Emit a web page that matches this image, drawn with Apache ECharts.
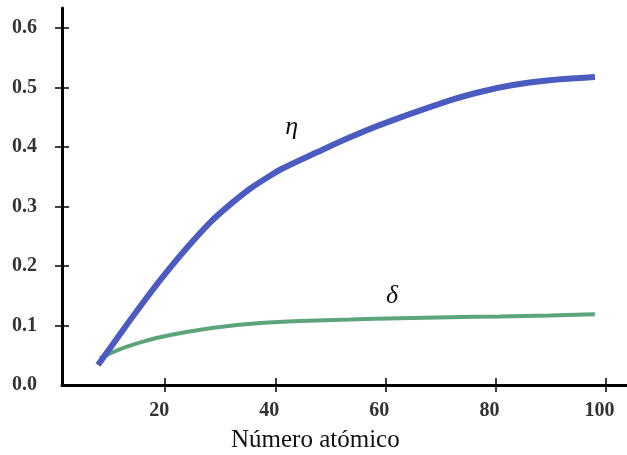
<!DOCTYPE html>
<html>
<head>
<meta charset="utf-8">
<script src="https://cdn.jsdelivr.net/npm/echarts@6/dist/echarts.min.js"></script>
<style>html,body{margin:0;padding:0;background:#fff;}#c{width:627px;height:455px;}</style>
</head>
<body>
<div id="c"></div>
<script>
// Data: [atomic number, coefficient]
const etaData = [[7.79,0.0335],[9.97,0.062],[12.7,0.0972],[15.42,0.1316],[19.05,0.176],[23.6,0.2271],[28.14,0.2732],[31.77,0.3033],[35.41,0.3301],[39.04,0.3519],[41.4,0.3645],[47.57,0.3913],[53.57,0.4165],[59.56,0.4391],[71.73,0.4785],[77.18,0.4927],[83.17,0.5044],[89.35,0.512],[98.07,0.5178]];
const deltaData = [[8.17,0.0452],[10.52,0.0553],[13.06,0.0645],[15.97,0.0729],[19.05,0.0804],[23.6,0.0888],[28.14,0.0955],[32.68,0.1006],[37.22,0.1043],[44.49,0.1076],[53.57,0.1101],[62.65,0.1123],[71.73,0.114],[80.81,0.1153],[89.9,0.117],[98.07,0.119]];
const xTicks = [20,40,60,80,100];
const yTicks = [0.1,0.2,0.3,0.4,0.5,0.6];
const yLabels = [0,0.1,0.2,0.3,0.4,0.5,0.6];
const etaLabelPos = [43.0,0.434];
const deltaLabelPos = [61.2,0.149];
const xName = 'Número atómico';

const serif = "'Liberation Serif','DejaVu Serif',serif";
const chart = echarts.init(document.getElementById('c'));
const xBase = {type:'value', min:1.25, max:103.9, position:'bottom', splitLine:{show:false}};
const yBase = {type:'value', min:0, max:0.634, position:'left', splitLine:{show:false}};
chart.setOption({
  animation:false,
  backgroundColor:'#fff',
  title:{text:xName, left:226, top:423, textStyle:{fontFamily:serif, fontSize:25, fontWeight:'normal', color:'#111'}},
  grid:{left:62, right:0, top:8, bottom:70, containLabel:false},
  xAxis:[
    Object.assign({}, xBase, {
      axisLine:{show:true, lineStyle:{color:'#000', width:3}},
      axisTick:{show:true, inside:false, length:7, lineStyle:{color:'#000', width:1.5}, customValues:xTicks},
      axisLabel:{show:true, customValues:xTicks, margin:16, padding:[0,12,0,0], fontFamily:serif, fontSize:20, fontWeight:'bold', color:'#333'}
    }),
    Object.assign({}, xBase, {
      axisLine:{show:false},
      axisTick:{show:true, inside:true, length:7, lineStyle:{color:'#000', width:1.5}, customValues:xTicks},
      axisLabel:{show:false}
    })
  ],
  yAxis:[
    Object.assign({}, yBase, {
      axisLine:{show:true, lineStyle:{color:'#000', width:3}},
      axisTick:{show:true, inside:false, length:7, lineStyle:{color:'#000', width:1.5}, customValues:yTicks},
      axisLabel:{show:true, customValues:yLabels, margin:25, fontFamily:serif, fontSize:20, fontWeight:'bold', color:'#333', formatter:v=>v.toFixed(1)}
    }),
    Object.assign({}, yBase, {
      axisLine:{show:false},
      axisTick:{show:true, inside:true, length:7, lineStyle:{color:'#000', width:1.5}, customValues:yTicks},
      axisLabel:{show:false}
    })
  ],
  series:[
    {name:'δ', type:'line', xAxisIndex:0, yAxisIndex:0, data:deltaData, smooth:0.35, symbol:'none',
     lineStyle:{color:'#5ca57b', width:4},
     markPoint:{symbol:'circle', symbolSize:0, data:[{coord:deltaLabelPos, value:'δ'}],
       label:{show:true, position:'inside', formatter:'δ', fontFamily:serif, fontStyle:'italic', fontSize:26, color:'#111'}}},
    {name:'η', type:'line', xAxisIndex:0, yAxisIndex:0, data:etaData, smooth:0.35, symbol:'none',
     lineStyle:{color:'#4b5bbf', width:6},
     markPoint:{symbol:'circle', symbolSize:0, data:[{coord:etaLabelPos, value:'η'}],
       label:{show:true, position:'inside', formatter:'η', fontFamily:serif, fontStyle:'italic', fontSize:26, color:'#111'}}}
  ]
});
</script>
</body>
</html>
